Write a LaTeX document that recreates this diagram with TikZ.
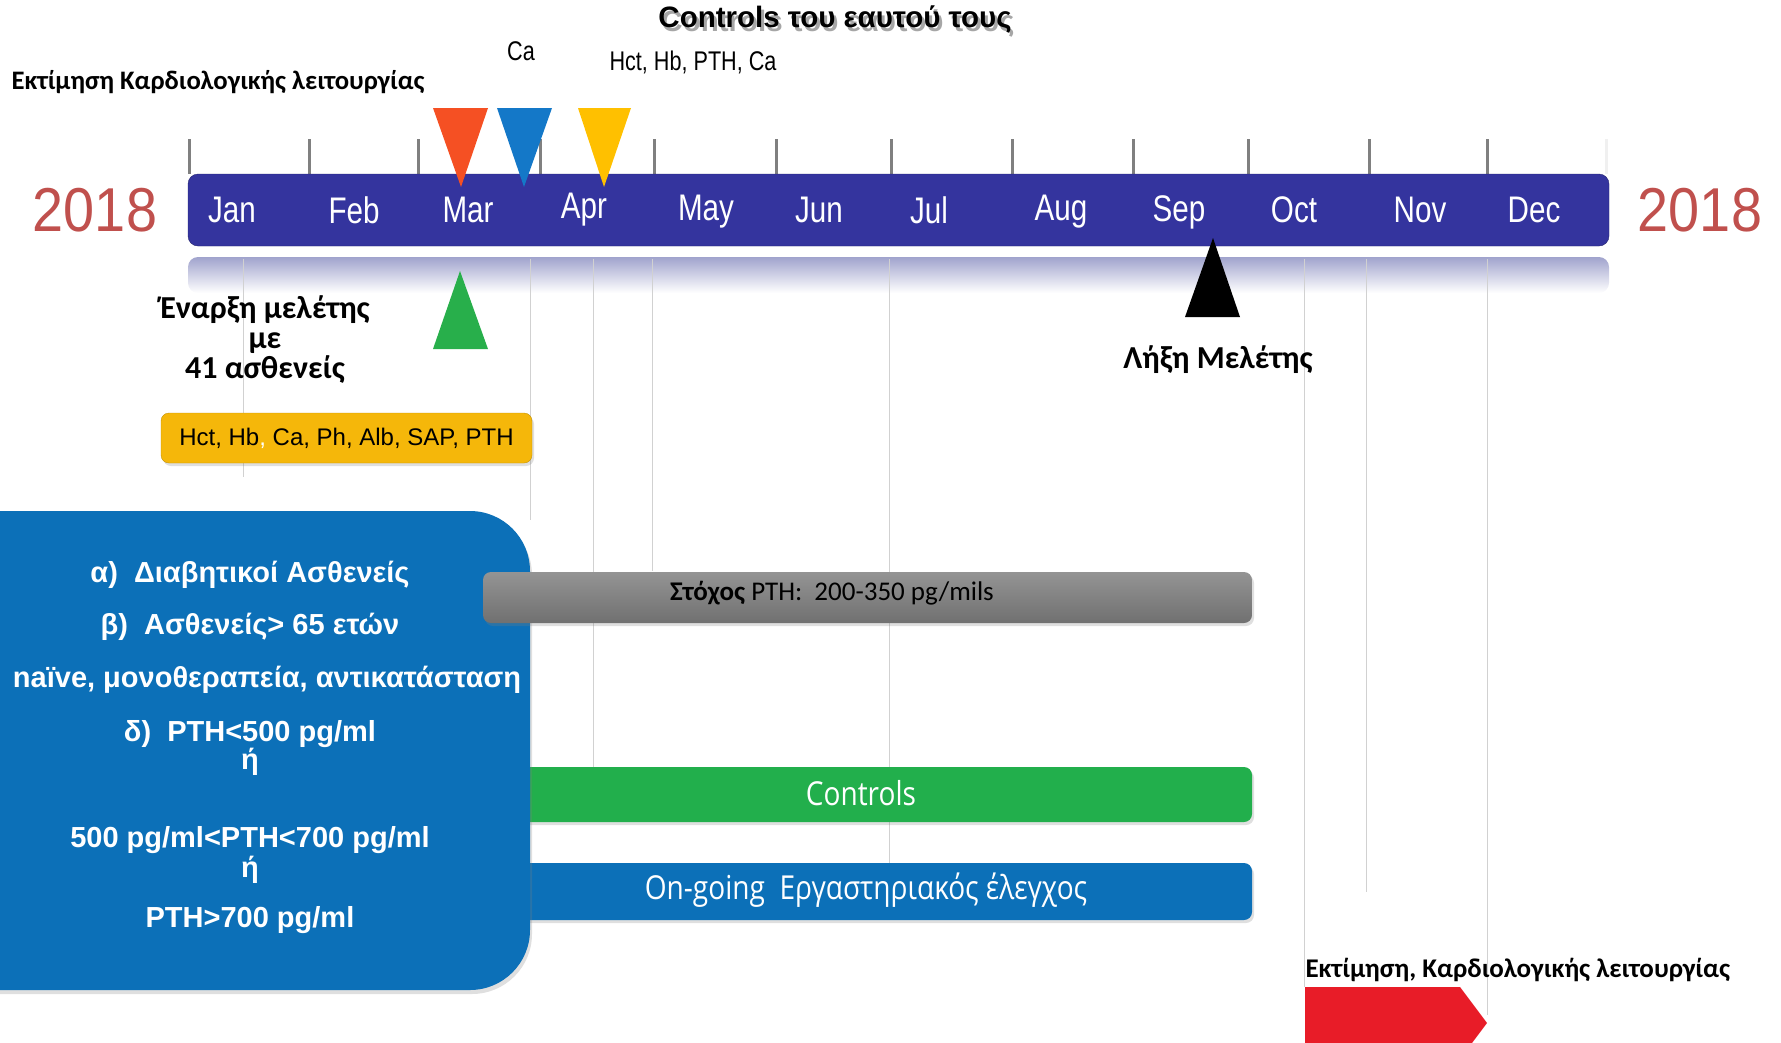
\documentclass[tikz,border=0pt]{standalone}
\usepackage{fontspec}
\setmainfont{Liberation Sans}
\newfontfamily\monthfont[FakeStretch=0.8]{Liberation Sans}
\newfontfamily\yearfont[FakeStretch=0.9]{Liberation Sans}
\newfontfamily\narrowfont[FakeStretch=0.8]{Liberation Sans}
\newfontfamily\calibfont{Carlito}
\newfontfamily\barfont[FakeStretch=0.85]{Open Sans}
\newcommand{\fsz}[1]{\fontsize{#1}{#1}\selectfont}
\newcommand{\shadowtext}[1]{\rlap{\raisebox{-4pt}[0pt][0pt]{\hspace{3pt}\textcolor{black!35}{#1}}}#1}
\usetikzlibrary{positioning, shadows}
\definecolor{barblue}{RGB}{52,52,158}
\definecolor{yearred}{RGB}{192,80,77}
\definecolor{markorange}{RGB}{245,80,35}
\definecolor{markblue}{RGB}{20,120,200}
\definecolor{markyellow}{RGB}{255,192,0}
\definecolor{markgreen}{RGB}{40,175,75}
\definecolor{boxblue}{RGB}{12,112,184}
\definecolor{boxyellow}{RGB}{245,183,10}
\definecolor{bargreen}{RGB}{34,175,76}
\definecolor{arrowred}{RGB}{232,28,40}
\definecolor{glow}{RGB}{160,163,205}
\tikzstyle{month}=[text=white, font=\monthfont\fsz{37}]
\tikzstyle{year}=[text=yearred, font=\yearfont\fsz{62}]
\tikzstyle{tick}=[draw=black!50, line width=3pt]
\tikzstyle{gridline}=[draw=black!18, line width=1pt]
\tikzstyle{phase}=[rounded corners=8pt, inner sep=0pt, drop shadow={opacity=0.25,shadow xshift=2pt,shadow yshift=-3pt}]
\tikzstyle{note}=[font=\calibfont\bfseries\fontsize{32}{30}\selectfont, align=center]
\tikzstyle{criterion}=[text=white, font=\bfseries\fsz{29}]
\tikzstyle{phaseText}=[text=white, font=\barfont\fsz{33}]

\begin{document}
\begin{tikzpicture}[x=1pt, y=-1pt]
    \useasboundingbox (0,0) rectangle (1781,1042);
    % glow under the timeline
    \shade[top color=glow, bottom color=white, rounded corners=10pt] (188,257) rectangle (1609,293);
    \foreach \x/\yend in {243/477, 530/520, 593/767, 652/571, 889/863, 1304/987, 1366/892, 1487/1015}
        \draw[gridline] (\x,259) -- (\x,\yend);
    \foreach \x in {189,309,418,540,654,776,891,1012,1133,1248,1369,1487}
        \draw[tick] (\x,139) -- (\x,174);
    \draw[tick, draw=black!6] (1606,139) -- (1606,174);

    \node[draw=barblue!70!black, fill=barblue, rounded corners=10pt, minimum width=1421, minimum height=72, inner sep=0pt] (timeline) at (898.5,210) {};
    \node[month] (jan) at (232,210) {Jan};
    \node[month] (feb) at (354,210) {Feb};
    \node[month] (mar) at (468,210) {Mar};
    \node[month] (apr) at (584,210) {Apr};
    \node[month] (may) at (706,212) {May};
    \node[month] (jun) at (819,210) {Jun};
    \node[month] (jul) at (929,210) {Jul};
    \node[month] (aug) at (1061,212) {Aug};
    \node[month] (sep) at (1179,212) {Sep};
    \node[month] (oct) at (1294,210) {Oct};
    \node[month] (nov) at (1420,210) {Nov};
    \node[month] (dec) at (1534,210) {Dec};
    \node[year] (yearL) at (95,210) {2018};
    \node[year] (yearR) at (1700,210) {2018};

    % markers
    \fill[markorange] (433,108) -- (488,108) -- (461,187) -- cycle;
    \fill[markblue] (497,108) -- (552,108) -- (524,187) -- cycle;
    \fill[markyellow] (578,108) -- (631,108) -- (604,187) -- cycle;
    \fill[markgreen] (433,349) -- (488,349) -- (460,271) -- cycle;
    \fill[black] (1185,317) -- (1240,317) -- (1213,238) -- cycle;

    \node[font=\bfseries\fsz{29.5}] (title) at (835,20) {\shadowtext{Controls του εαυτού τους}};
    \node[font=\narrowfont\fsz{27}] (caLab) at (521,51) {Ca};
    \node[font=\narrowfont\fsz{27}] (labsLab) at (693,62) {Hct, Hb, PTH, Ca};
    \node[font=\calibfont\bfseries\fsz{26.7}] (echoTop) at (218,82) {Εκτίμηση Καρδιολογικής λειτουργίας};
    \node[note] (start) at (265,340) {Έναρξη μελέτης\\με\\41 ασθενείς};
    \node[note] (end) at (1218,360) {Λήξη Μελέτης};

    \node[phase, fill=boxyellow, draw=boxyellow!80!black, minimum width=371, minimum height=50, font=\fsz{24}] (baseLabs) at (346.5,438) {Hct, Hb\textcolor{white}{,} Ca, Ph, Alb, SAP, PTH};

    % phases running behind the criteria box
    \node[phase, fill=bargreen, minimum width=732, minimum height=55] (controls) at (886,794.5) {};
    \node[phase, fill=boxblue, minimum width=732, minimum height=57] (ongoing) at (886,891.5) {};
    \node[phaseText] (controlsTxt) at (861,793) {Controls};
    \node[phaseText] (ongoingTxt) at (866,890) {On-going\ \ Εργαστηριακός έλεγχος};

    \node[fill=boxblue, rounded corners=60pt, minimum width=600, minimum height=479, inner sep=0pt, drop shadow={opacity=0.25,shadow xshift=2pt,shadow yshift=-4pt}] (criteria) at (230,750.5) {};
    \node[criterion] (critA) at (250,575) {α)\ \ Διαβητικοί Ασθενείς};
    \node[criterion] (critB) at (250,627) {β)\ \ Ασθενείς> 65 ετών};
    \node[criterion] (critC) at (267,680) {naïve, μονοθεραπεία, αντικατάσταση};
    \node[criterion] (critD) at (250,734) {δ)\ \ PTH<500 pg/ml};
    \node[criterion] (orA) at (250,762) {ή};
    \node[criterion] (critE) at (250,840) {500 pg/ml<PTH<700 pg/ml};
    \node[criterion] (orB) at (250,870) {ή};
    \node[criterion] (critF) at (250,920) {PTH>700 pg/ml};

    \node[phase, top color=black!42, bottom color=black!56, minimum width=769, minimum height=51] (target) at (867.5,597.5) {};
    \node[font=\calibfont\fsz{27}] (targetTxt) at (832,593) {\textbf{Στόχος} PTH:\ \ 200-350 pg/mils};

    \fill[arrowred] (1305,987) -- (1460,987) -- (1487,1023) -- (1460,1059) -- (1305,1059) -- cycle;
    \node[font=\calibfont\bfseries\fsz{27}, anchor=west] (echoBottom) at (1302,970) {Εκτίμηση, Καρδιολογικής λειτουργίας};
\end{tikzpicture}
\end{document}
